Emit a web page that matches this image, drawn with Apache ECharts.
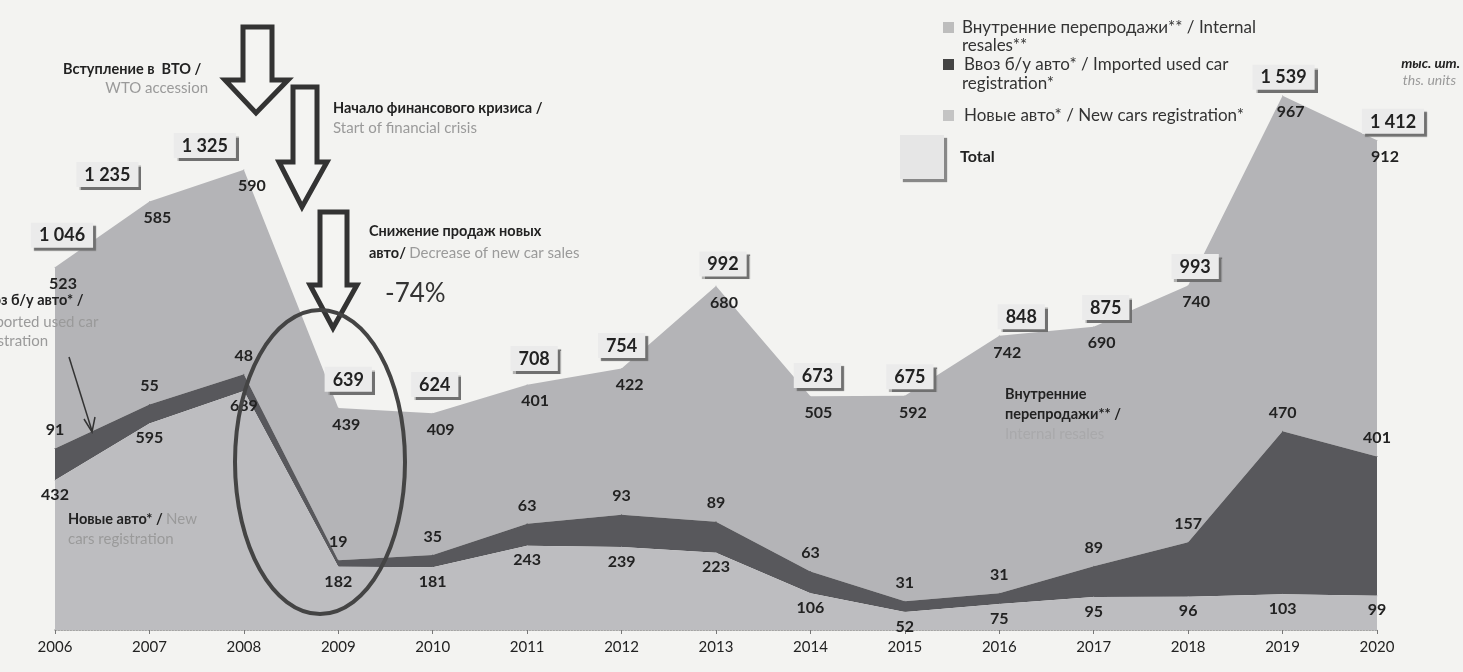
<!DOCTYPE html>
<html>
<head>
<meta charset="utf-8">
<script src="https://cdn.jsdelivr.net/npm/echarts@6/dist/echarts.min.js"></script>
<style>
html,body{margin:0;padding:0;background:#f3f3f1;}
#chart{width:1463px;height:672px;}
</style>
</head>
<body>
<div id="chart"></div>
<script>
// ---- data ----
const years = ['2006','2007','2008','2009','2010','2011','2012','2013','2014','2015','2016','2017','2018','2019','2020'];
const newCars = [432, 595, 689, 182, 181, 243, 239, 223, 106, 52, 75, 95, 96, 103, 99];
const importedUsed = [91, 55, 48, 19, 35, 63, 93, 89, 63, 31, 31, 89, 157, 470, 401];
const internalResales = [523, 585, 590, 439, 409, 401, 422, 680, 505, 592, 742, 690, 740, 967, 912];
const totals = [1046, 1235, 1325, 639, 624, 708, 754, 992, 673, 675, 848, 875, 993, 1539, 1412];

const nameResales = 'Внутренние перепродажи** / Internal resales**';
const nameImported = 'Ввоз б/у авто* / Imported used car registration*';
const nameNew = 'Новые авто* / New cars registration*';

// ---- layout (label nudges for total boxes, px) ----
const totalLabelNudge = [[7,-5],[-42,0],[-39,2],[10,-2],[2,-2],[7,1],[0,4],[7,5],[7,6],[5,8],[22,8],[12,8],[7,8],[1,8],[16,8]];

const FONT = 'Lato, "Open Sans", sans-serif';
const cLight = '#bdbdc0';
const cTop = '#b4b4b7';
const cDark = '#58585c';
const dark = '#222';
const grey = '#9a9a9a';

const chart = echarts.init(document.getElementById('chart'));

const valLabel = {
  show: true, color: dark, fontFamily: FONT, fontWeight: 'bold', fontSize: 16
};

const totalData = totals.map((v, i) => ({
  value: v,
  label: { offset: totalLabelNudge[i] }
}));

function txt(x, y, text, opts) {
  return {
    type: 'text', x: x, y: y, z: 100,
    style: Object.assign({
      text: text, fill: dark, font: 'bold 14.5px ' + FONT, verticalAlign: 'middle'
    }, opts || {})
  };
}
const G = '15px ' + FONT;
const L = '17px ' + FONT;

const graphics = [
  // arrows
  { type: 'polygon', z: 90, shape: { points: [[243,27],[272,27],[272,80],[288,80],[256,113],[225,80],[243,80]] },
    style: { fill: '#f4f4f2', stroke: '#333', lineWidth: 5, lineJoin: 'miter' } },
  { type: 'polygon', z: 90, shape: { points: [[293,87],[317,87],[317,162],[327,162],[302,207],[279,162],[293,162]] },
    style: { fill: '#f4f4f2', stroke: '#333', lineWidth: 5, lineJoin: 'miter' } },
  { type: 'polygon', z: 90, shape: { points: [[320,212],[347,212],[347,285],[357,285],[333,328],[310,285],[320,285]] },
    style: { fill: '#f4f4f2', stroke: '#333', lineWidth: 5, lineJoin: 'miter' } },
  // ellipse
  { type: 'ellipse', z: 91, shape: { cx: 320, cy: 462, rx: 85, ry: 152 },
    style: { fill: 'none', stroke: '#444', lineWidth: 4 } },
  // annotations
  txt(63, 69, 'Вступление в  ВТО /'),
  txt(208, 88, 'WTO accession', { fill: grey, font: G, align: 'right' }),
  txt(333, 108, 'Начало финансового кризиса /'),
  txt(333, 128, 'Start of financial crisis', { fill: grey, font: G }),
  txt(369, 231, 'Снижение продаж новых'),
  { type: 'text', x: 369, y: 253, z: 100, style: {
      text: '{b|авто/} {g|Decrease of new car sales}', verticalAlign: 'middle',
      rich: { b: { font: 'bold 14.5px ' + FONT, fill: dark }, g: { font: G, fill: grey } } } },
  txt(385, 294, '-74%', { font: '26px ' + FONT, fill: '#333' }),
  txt(-24, 300, 'Ввоз б/у авто* /'),
  txt(-21, 322, 'Imported used car', { fill: grey, font: G }),
  txt(-27, 341, 'registration', { fill: grey, font: G }),
  { type: 'line', z: 100, shape: { x1: 69, y1: 357, x2: 92, y2: 431 }, style: { stroke: '#333', lineWidth: 1.5 } },
  { type: 'polyline', z: 100, shape: { points: [[84,419],[92,432],[95,417]] }, style: { stroke: '#333', lineWidth: 1.5, fill: 'none' } },
  { type: 'text', x: 68, y: 519, z: 100, style: {
      text: '{b|Новые авто* /} {g|New}', verticalAlign: 'middle',
      rich: { b: { font: 'bold 14.5px ' + FONT, fill: dark }, g: { font: G, fill: grey } } } },
  txt(68, 539, 'cars registration', { fill: grey, font: G }),
  txt(1005, 394, 'Внутренние'),
  txt(1005, 414, 'перепродажи** /'),
  txt(1005, 434, 'Internal resales', { fill: '#a9a9ab', font: G }),
  txt(1460, 63, 'тыс. шт.', { font: 'italic bold 14px ' + FONT, align: 'right' }),
  txt(1456, 80, 'ths. units', { font: 'italic 14px ' + FONT, align: 'right', fill: grey }),
  // legend
  { type: 'rect', z: 100, shape: { x: 943, y: 22, width: 11, height: 11 }, style: { fill: '#bdbdbd' } },
  txt(962, 28, 'Внутренние перепродажи** / Internal', { font: L, fill: '#333' }),
  txt(962, 46, 'resales**', { font: L, fill: '#333' }),
  { type: 'rect', z: 100, shape: { x: 943, y: 59, width: 11, height: 11 }, style: { fill: '#444' } },
  txt(964, 65, 'Ввоз б/у авто* / Imported used car', { font: L, fill: '#333' }),
  txt(962, 84, 'registration*', { font: L, fill: '#333' }),
  { type: 'rect', z: 100, shape: { x: 943, y: 110, width: 11, height: 11 }, style: { fill: '#c4c4c4' } },
  txt(964, 116, nameNew, { font: L, fill: '#333' }),
  { type: 'rect', z: 100, shape: { x: 900, y: 135, width: 44, height: 44 },
    style: { fill: '#e6e6e6', shadowColor: '#888', shadowOffsetX: 3, shadowOffsetY: 3, shadowBlur: 1 } },
  txt(960, 157, 'Total', { font: 'bold 16px ' + FONT })
];

chart.setOption({
  backgroundColor: '#f3f3f1',
  animation: false,
  grid: { left: 55, right: 86, top: 75, bottom: 42 },
  xAxis: {
    type: 'category', data: years, boundaryGap: false,
    axisLine: { lineStyle: { color: '#8a8a8a', type: 'dotted', width: 1.5 } },
    axisTick: { show: true, length: 4, lineStyle: { color: '#777' } },
    axisLabel: { color: dark, fontFamily: FONT, fontSize: 15, margin: 10 }
  },
  yAxis: { type: 'value', min: 0, max: 1600, show: false, splitLine: { show: false } },
  series: [
    { name: nameNew, type: 'line', stack: 'all', z: 4, data: newCars,
      symbol: 'circle', symbolSize: 1, itemStyle: { color: cLight },
      lineStyle: { width: 0 }, areaStyle: { color: cLight, opacity: 1 },
      label: Object.assign({ position: 'bottom', distance: 6 }, valLabel) },
    { name: nameImported, type: 'line', stack: 'all', z: 3, data: importedUsed,
      symbol: 'circle', symbolSize: 1, itemStyle: { color: cDark },
      lineStyle: { width: 0 }, areaStyle: { color: cDark, opacity: 1 },
      label: Object.assign({ position: 'top', distance: 10 }, valLabel) },
    { name: nameResales, type: 'line', stack: 'all', z: 2, data: internalResales,
      symbol: 'circle', symbolSize: 1, itemStyle: { color: cTop },
      lineStyle: { width: 0 }, areaStyle: { color: cTop, opacity: 1 },
      label: Object.assign({ position: 'bottom', distance: 8, offset: [8, 0] }, valLabel) },
    { name: 'Total', type: 'line', z: 6, data: totalData,
      symbol: 'circle', symbolSize: 1, itemStyle: { color: 'rgba(0,0,0,0)' },
      lineStyle: { width: 0, opacity: 0 },
      label: { show: true, position: 'top', distance: 14, color: dark, fontFamily: FONT,
        fontWeight: 'bold', fontSize: 18, backgroundColor: '#ebebeb', padding: [4, 8, 3, 8],
        shadowColor: '#707070', shadowOffsetX: 3, shadowOffsetY: 3, shadowBlur: 1,
        formatter: p => String(p.value).replace(/\B(?=(\d{3})+(?!\d))/g, ' ') } }
  ],
  graphic: graphics
});
</script>
</body>
</html>
